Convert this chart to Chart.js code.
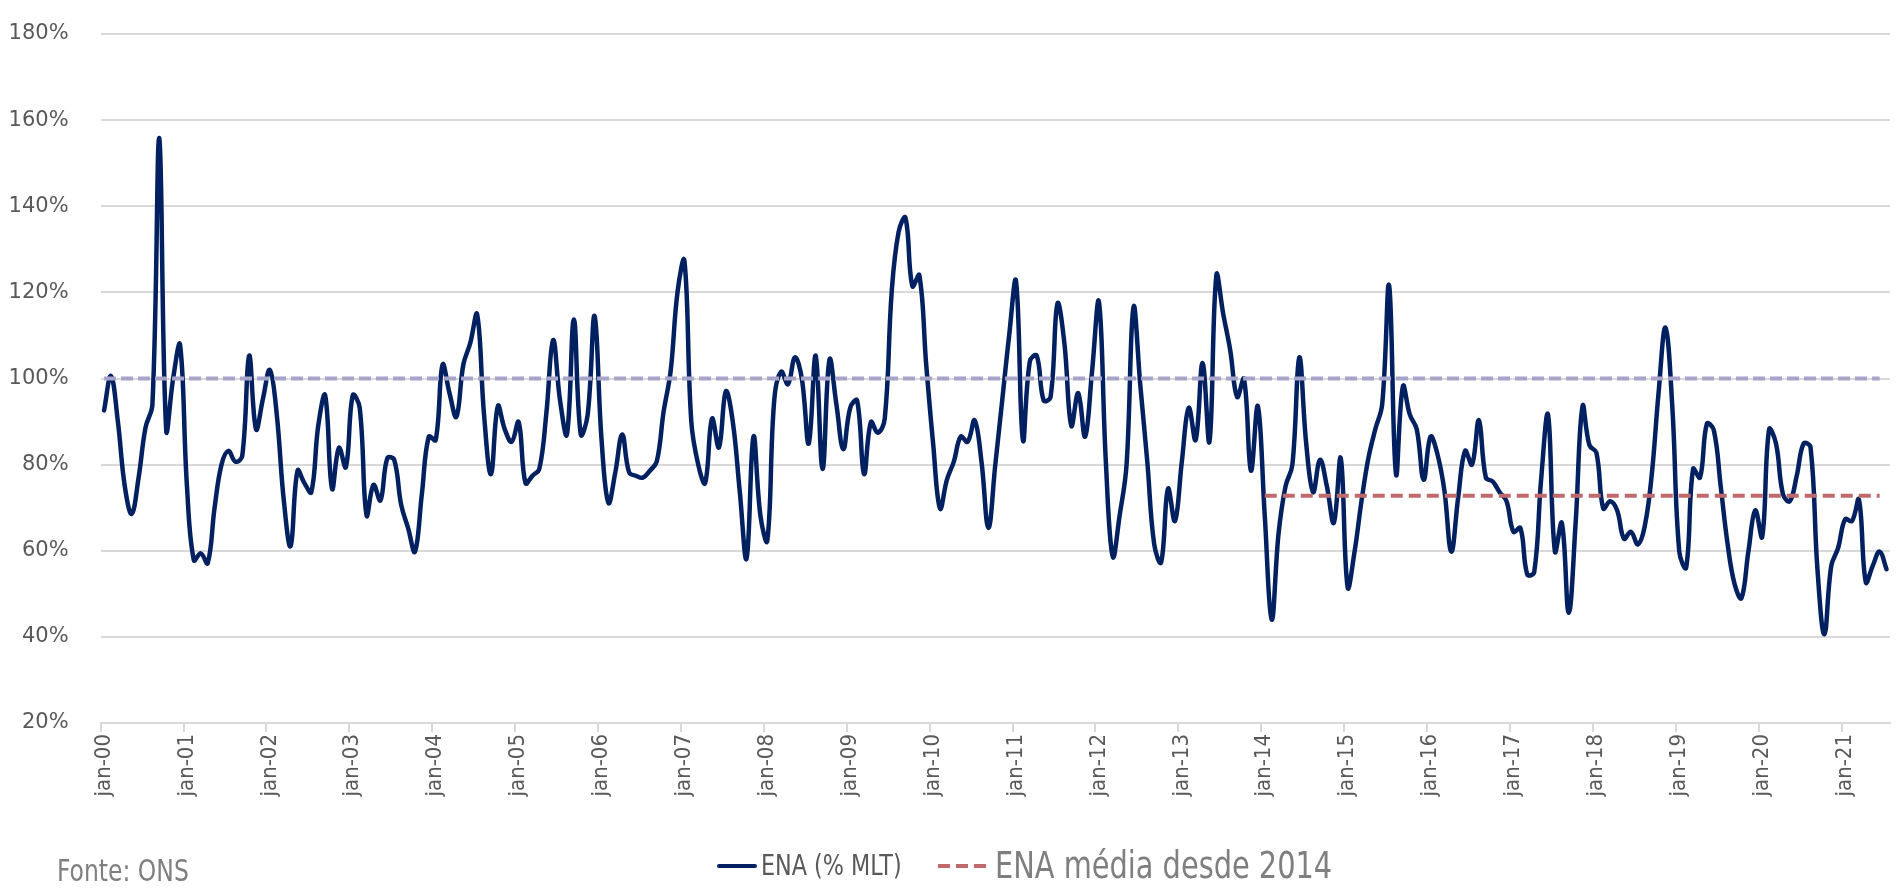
<!DOCTYPE html>
<html>
<head>
<meta charset="utf-8">
<script src="https://cdn.jsdelivr.net/npm/chart.js@4.4.1/dist/chart.umd.min.js"></script>
<style>
html,body{margin:0;padding:0;background:#ffffff;}
#wrap{position:relative;width:1903px;height:896px;overflow:hidden;}
#c{position:absolute;left:0;top:0;}
.cond{font-family:"Liberation Sans Narrow","Arial Narrow","DejaVu Sans Condensed","Liberation Sans",sans-serif;white-space:nowrap;position:absolute;transform-origin:0 50%;}
#fonte{left:57px;top:852px;font-size:30px;line-height:38px;color:#7f7f7f;transform:scaleX(0.87);}
#lgLine{position:absolute;left:717px;top:864px;width:40px;height:4px;background:#002060;border-radius:2px;}
#lgText1{left:761px;top:846px;font-size:28px;line-height:40px;color:#595959;transform:scaleX(0.885);}
.dash{position:absolute;top:864px;width:12px;height:4px;background:#c0696b;}
#lgText2{left:995px;top:843px;font-size:37px;line-height:46px;color:#7f7f7f;transform:scaleX(0.866);}
</style>
</head>
<body>
<div id="wrap">
<canvas id="c" width="1903" height="896"></canvas>
<div id="fonte" class="cond">Fonte: ONS</div>
<div id="lgLine"></div>
<div id="lgText1" class="cond">ENA (% MLT)</div>
<div class="dash" style="left:938px"></div>
<div class="dash" style="left:956px"></div>
<div class="dash" style="left:974px"></div>
<div id="lgText2" class="cond">ENA média desde 2014</div>
</div>
<script>
// ---- data (ENA, % da MLT, mensal) ----
const ena2000 = [92.6, 100.6, 90, 75, 68.6, 77, 88.6, 94, 155.8, 88, 100, 107.8];
const ena2001 = [75, 57.8, 59.4, 57.1, 70, 80, 83.2, 80.7, 82, 105.3, 88.2, 95.3];
const ena2002 = [102, 91.6, 72, 61.1, 78.6, 75.7, 73.6, 89, 96.1, 74.4, 83.9, 79.4];
const ena2003 = [96.1, 93.2, 68.2, 75.3, 71.7, 81.5, 81.1, 70.7, 65.3, 59.8, 73.2, 86.5];
const ena2004 = [85.7, 103.2, 96.6, 91.1, 103.2, 108.2, 114.9, 91.6, 77.8, 93.6, 88.2, 85.3];
const ena2005 = [89.9, 75.7, 77.4, 79, 91.6, 108.9, 94.9, 87, 113.7, 87, 91.6, 114.5];
const ena2006 = [86, 71.1, 78.2, 87, 78.2, 77.4, 77, 78.6, 80.7, 92.4, 101.6, 120];
const ena2007 = [127.4, 90, 80, 75.7, 90.7, 84, 97, 90, 74, 58.2, 86.5, 68.2];
const ena2008 = [62.3, 94.9, 101.6, 98.7, 104.9, 99.9, 84.9, 105.3, 79, 104.4, 94, 83.6];
const ena2009 = [93.2, 94.9, 77.8, 89.9, 87.4, 90.7, 120, 134, 137.3, 121.4, 124, 103.2];
const ena2010 = [84.9, 69.8, 76.5, 80.7, 86.5, 85.3, 90.3, 80.7, 65.3, 80, 94.9, 109.9];
const ena2011 = [122.6, 85.7, 104, 105.3, 94.9, 95.7, 117.4, 108.2, 89, 96.6, 86.5, 101.6];
const ena2012 = [117.8, 80.7, 58.6, 68.2, 80, 116.6, 98.2, 80.7, 61.5, 57.3, 74.4, 66.9];
const ena2013 = [80.7, 93.2, 85.7, 103.6, 85.3, 124, 114.9, 106.6, 95.7, 99.9, 78.6, 93.6];
const ena2014 = [68.2, 44, 64, 74.9, 80, 104.9, 84.9, 73.6, 81.1, 74.9, 66.5, 81.5];
const ena2015 = [51.5, 59.8, 71.5, 81.5, 88.2, 94, 121.6, 77.8, 98.2, 91.6, 88.2, 76.5];
const ena2016 = [86.5, 82.4, 74, 59.8, 72.4, 83.2, 80, 90.3, 77, 76.1, 73.6, 71.5];
const ena2017 = [64.4, 65.3, 54.5, 55, 76.5, 91.6, 59.8, 66.5, 45.6, 66.5, 93.6, 84.5];
const ena2018 = [82.8, 69.8, 71.5, 69.4, 62.8, 64.4, 61.5, 65.7, 77.4, 96.6, 111.8, 93.2];
const ena2019 = [59.8, 56.1, 79, 77, 89.5, 88, 74.9, 61.5, 52.3, 49, 59.8, 69.4];
const ena2020 = [63.2, 88.2, 84.9, 73.2, 71.5, 77.4, 84.9, 84, 55.7, 40.6, 56.5, 60.7];
const ena2021 = [67.3, 66.9, 71.9, 52.7, 56.5, 59.8, 55.7];

const monthNames = ['jan','fev','mar','abr','mai','jun','jul','ago','set','out','nov','dez'];
const yearLabels = ['00','01','02','03','04','05','06','07','08','09','10','11','12','13','14','15','16','17','18','19','20','21'];

const mltLevel = 100;          // 100% da MLT
const avgSince2014 = 72.8;     // ENA média desde 2014
const avgFrom = 'jan-14';
const lineTo = 'jun-21';

const yTickMin = 20, yTickMax = 180, yTickStep = 20;

// ---- build tables ----
const ena = [].concat(ena2000, ena2001, ena2002, ena2003, ena2004, ena2005, ena2006, ena2007,
  ena2008, ena2009, ena2010, ena2011, ena2012, ena2013, ena2014, ena2015, ena2016, ena2017,
  ena2018, ena2019, ena2020, ena2021);
const categories = [];
yearLabels.forEach(y => monthNames.forEach(m => categories.push(m + '-' + y)));
const labels = categories.slice(0, ena.length);
const iFrom = labels.indexOf(avgFrom);
const iTo = labels.indexOf(lineTo);
const mltLine = labels.map((c, i) => i <= iTo ? mltLevel : null);
const avgLine = labels.map((c, i) => (i >= iFrom && i <= iTo) ? avgSince2014 : null);

const condFont = '"Liberation Sans Narrow","Arial Narrow","DejaVu Sans Condensed","Liberation Sans",sans-serif';

new Chart(document.getElementById('c'), {
  type: 'line',
  data: {
    labels: labels,
    datasets: [
      { label: 'ENA (% MLT)', data: ena, borderColor: '#002060', borderWidth: 4.5,
        pointRadius: 0, tension: 0.4, order: 2, borderCapStyle: 'round', borderJoinStyle: 'round' },
      { label: '100% MLT', data: mltLine, borderColor: '#a7a3c9', borderWidth: 4,
        borderDash: [12, 5], pointRadius: 0, order: 1 },
      { label: 'ENA média desde 2014', data: avgLine, borderColor: '#c0696b', borderWidth: 4,
        borderDash: [12, 6], pointRadius: 0, order: 1 }
    ]
  },
  options: {
    responsive: false,
    animation: false,
    devicePixelRatio: 1,
    layout: { padding: { left: 0, right: 13, top: 34, bottom: 23 } },
    plugins: { legend: { display: false }, tooltip: { enabled: false } },
    scales: {
      x: {
        type: 'category',
        offset: true,
        afterFit: s => { s.height = 150; s.paddingLeft = 0; s.paddingRight = 0; },
        border: { display: true, color: '#d9d9d9', width: 2 },
        grid: {
          offset: true,
          drawOnChartArea: false,
          drawTicks: true,
          tickLength: 9,
          lineWidth: 2,
          color: ctx => (ctx.index % 12 === 0 ? '#d9d9d9' : 'rgba(0,0,0,0)')
        },
        ticks: {
          autoSkip: false,
          maxRotation: 90,
          minRotation: 90,
          padding: 2,
          color: '#595959',
          font: { family: condFont, size: 22 },
          callback: function (v, i) { return i % 12 === 0 ? this.getLabelForValue(v) : ''; }
        }
      },
      y: {
        min: yTickMin, max: yTickMax,
        afterFit: s => { s.width = 100.6; s.paddingTop = 0; s.paddingBottom = 0; },
        border: { display: false },
        grid: { color: '#d9d9d9', lineWidth: 2, drawTicks: false },
        ticks: {
          stepSize: yTickStep,
          padding: 32,
          color: '#595959',
          font: { family: '"DejaVu Sans",sans-serif', size: 21 },
          callback: v => v + '%'
        }
      }
    }
  }
});
</script>
</body>
</html>
